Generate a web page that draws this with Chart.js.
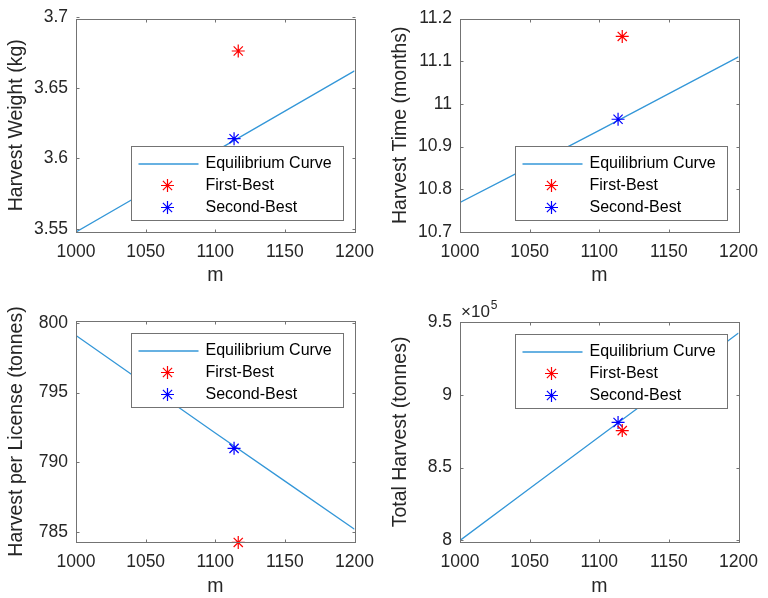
<!DOCTYPE html>
<html lang="en">
<head>
<meta charset="UTF-8" />
<script src="https://cdn.jsdelivr.net/npm/chart.js@4.4.0/dist/chart.umd.min.js"></script>
<style>
    body { margin: 0; background: #fff; }
    .panel { position: absolute; width: 384px; height: 299px; }
</style>
</head>
<body>
<div class="panel" style="left:0;top:0"><canvas id="weight" width="384" height="299"></canvas></div>
<div class="panel" style="left:384px;top:0"><canvas id="time" width="384" height="299"></canvas></div>
<div class="panel" style="left:0;top:299px"><canvas id="perLicense" width="384" height="299"></canvas></div>
<div class="panel" style="left:384px;top:299px"><canvas id="total" width="384" height="299"></canvas></div>
<script>
    // license count m along the equilibrium curve
    const mCurve = [1000, 1050, 1100, 1150, 1200];
    const mFirstBest = 1116.5;
    const mSecondBest = 1113.5;
    const xTicks = [1000, 1050, 1100, 1150, 1200];

    const weightCurve = [3.548, 3.5765, 3.605, 3.6335, 3.662];
    const weightFirstBest = 3.676;
    const weightSecondBest = 3.614;
    const weightTicks = [3.55, 3.6, 3.65, 3.7];

    const timeCurve = [10.769, 10.853, 10.938, 11.024, 11.110];
    const timeFirstBest = 11.158;
    const timeSecondBest = 10.964;
    const timeTicks = [10.7, 10.8, 10.9, 11, 11.1, 11.2];

    const perLicenseCurve = [799.1, 795.6, 792.1, 788.65, 785.2];
    const perLicenseFirstBest = 784.25;
    const perLicenseSecondBest = 791.0;
    const perLicenseTicks = [785, 790, 795, 800];

    const totalCurve = [800000, 835600, 871200, 906800, 942500];
    const totalFirstBest = 875400;
    const totalSecondBest = 881000;
    const totalTicks = [800000, 850000, 900000, 950000];

    const fontFamily = '"Liberation Sans", Arial, Helvetica, sans-serif';
    const axisColor = '#737373';
    const textColor = '#262626';
    const curveColor = '#3497d8';

    function drawStar(ctx, x, y, r, color) {
        ctx.save();
        ctx.strokeStyle = color;
        ctx.lineWidth = 1.2;
        ctx.beginPath();
        for (let k = 0; k < 4; k++) {
            const ang = k * Math.PI / 4;
            ctx.moveTo(x - r * Math.cos(ang), y - r * Math.sin(ang));
            ctx.lineTo(x + r * Math.cos(ang), y + r * Math.sin(ang));
        }
        ctx.stroke();
        ctx.restore();
    }

    // box, inner tick marks, legend and exponent label like a matlab axes
    const matlabBox = {
        id: 'matlabBox',
        afterDraw(chart, args, opts) {
            const ctx = chart.ctx;
            const a = chart.chartArea;
            const xs = chart.scales.x;
            const ys = chart.scales.y;
            ctx.save();
            ctx.strokeStyle = axisColor;
            ctx.lineWidth = 1;
            const l = Math.round(a.left) + 0.5, t = Math.round(a.top) + 0.5;
            const r = Math.round(a.right) + 0.5, b = Math.round(a.bottom) + 0.5;
            ctx.strokeRect(l, t, r - l, b - t);
            ctx.beginPath();
            xs.ticks.forEach(tk => {
                const px = Math.round(xs.getPixelForValue(tk.value)) + 0.5;
                ctx.moveTo(px, b); ctx.lineTo(px, b - 3);
                ctx.moveTo(px, t); ctx.lineTo(px, t + 3);
            });
            ys.ticks.forEach(tk => {
                const py = Math.round(ys.getPixelForValue(tk.value)) + 0.5;
                ctx.moveTo(l, py); ctx.lineTo(l + 3, py);
                ctx.moveTo(r, py); ctx.lineTo(r - 3, py);
            });
            ctx.stroke();

            const w = 212, h = 74;
            const x0 = Math.round(a.right - 12 - w) + 0.5;
            const y0 = Math.round(opts.legendAt === 'bottom' ? a.bottom - 12 - h : a.top + 12) + 0.5;
            ctx.fillStyle = '#fff';
            ctx.fillRect(x0, y0, w, h);
            ctx.strokeRect(x0, y0, w, h);
            ctx.font = '16px ' + fontFamily;
            ctx.textBaseline = 'middle';
            ctx.textAlign = 'left';
            chart.data.datasets.forEach((ds, i) => {
                const ry = y0 + 17 + i * 22;
                if (ds.showLine) {
                    ctx.strokeStyle = ds.borderColor;
                    ctx.lineWidth = 1.5;
                    ctx.beginPath();
                    ctx.moveTo(x0 + 7, Math.round(ry));
                    ctx.lineTo(x0 + 67, Math.round(ry));
                    ctx.stroke();
                } else {
                    drawStar(ctx, x0 + 36, ry, 6.5, ds.borderColor);
                }
                ctx.fillStyle = '#000';
                ctx.fillText(ds.label, x0 + 74, ry);
            });

            if (opts.exponent) {
                ctx.fillStyle = textColor;
                ctx.textBaseline = 'alphabetic';
                ctx.font = '17px ' + fontFamily;
                ctx.fillText('×10', a.left + 1, a.top - 5);
                const tw = ctx.measureText('×10').width;
                ctx.font = '12px ' + fontFamily;
                ctx.fillText(opts.exponent, a.left + 2 + tw, a.top - 13);
            }
            ctx.restore();
        }
    };

    function fmt(v) {
        return String(Number(v.toFixed(6)));
    }

    function makePlot(id, cfg) {
        const ctx = document.getElementById(id).getContext('2d');
        return new Chart(ctx, {
            type: 'scatter',
            data: {
                datasets: [{
                    label: 'Equilibrium Curve',
                    data: mCurve.map((m, i) => ({ x: m, y: cfg.curve[i] })),
                    showLine: true,
                    pointRadius: 0,
                    borderColor: curveColor,
                    borderWidth: 1.3,
                    order: 3
                }, {
                    label: 'First-Best',
                    data: [{ x: mFirstBest, y: cfg.firstBest }],
                    pointStyle: 'star',
                    pointRadius: 6.5,
                    borderWidth: 1.2,
                    borderColor: '#ff0000',
                    backgroundColor: '#ff0000',
                    clip: false,
                    order: 1
                }, {
                    label: 'Second-Best',
                    data: [{ x: mSecondBest, y: cfg.secondBest }],
                    pointStyle: 'star',
                    pointRadius: 6.5,
                    borderWidth: 1.2,
                    borderColor: '#0000ff',
                    backgroundColor: '#0000ff',
                    clip: false,
                    order: 2
                }]
            },
            options: {
                responsive: false,
                animation: false,
                events: [],
                layout: { padding: cfg.padding },
                plugins: {
                    legend: { display: false },
                    tooltip: { enabled: false },
                    matlabBox: { legendAt: cfg.legendAt, exponent: cfg.exponent }
                },
                scales: {
                    x: {
                        type: 'linear',
                        min: 1000,
                        max: 1200,
                        afterBuildTicks: s => { s.ticks = xTicks.map(v => ({ value: v })); },
                        afterFit: s => { s.height = cfg.xHeight; },
                        grid: { display: false, drawTicks: false },
                        border: { display: false },
                        ticks: {
                            autoSkip: false, maxRotation: 0, padding: 10,
                            color: textColor, font: { family: fontFamily, size: 17.5 },
                            callback: v => fmt(v)
                        },
                        title: {
                            display: true, text: 'm', color: textColor,
                            font: { family: fontFamily, size: 19.5 }, padding: { top: 0, bottom: 0 }
                        }
                    },
                    y: {
                        type: 'linear',
                        min: cfg.yMin,
                        max: cfg.yMax,
                        afterBuildTicks: s => { s.ticks = cfg.ticks.map(v => ({ value: v })); },
                        afterFit: s => { s.width = 76; },
                        grid: { display: false, drawTicks: false },
                        border: { display: false },
                        ticks: {
                            autoSkip: false, padding: 8,
                            color: textColor, font: { family: fontFamily, size: 17.5 },
                            callback: v => fmt(v / (cfg.scaleBy || 1))
                        },
                        title: {
                            display: true, text: cfg.title, color: textColor,
                            font: { family: fontFamily, size: 19.5 }, padding: { top: 5, bottom: 0 }
                        }
                    }
                }
            },
            plugins: [matlabBox]
        });
    }

    makePlot('weight', {
        curve: weightCurve, firstBest: weightFirstBest, secondBest: weightSecondBest,
        ticks: weightTicks, yMin: 3.548, yMax: 3.699, title: 'Harvest Weight (kg)',
        legendAt: 'bottom', xHeight: 55, padding: { top: 12, right: 23, bottom: 12, left: 0 }
    });
    makePlot('time', {
        curve: timeCurve, firstBest: timeFirstBest, secondBest: timeSecondBest,
        ticks: timeTicks, yMin: 10.7, yMax: 11.2, title: 'Harvest Time (months)',
        legendAt: 'bottom', xHeight: 55, padding: { top: 12, right: 24, bottom: 12, left: 0 }
    });
    makePlot('perLicense', {
        curve: perLicenseCurve, firstBest: perLicenseFirstBest, secondBest: perLicenseSecondBest,
        ticks: perLicenseTicks, yMin: 784.28, yMax: 800.14, title: 'Harvest per License (tonnes)',
        legendAt: 'top', xHeight: 56, padding: { top: 22, right: 23, bottom: 0, left: 0 }
    });
    makePlot('total', {
        curve: totalCurve, firstBest: totalFirstBest, secondBest: totalSecondBest,
        ticks: totalTicks, yMin: 798900, yMax: 950000, title: 'Total Harvest (tonnes)',
        scaleBy: 1e5, exponent: '5',
        legendAt: 'top', xHeight: 56, padding: { top: 23, right: 24, bottom: 0, left: 0 }
    });
</script>
</body>
</html>
